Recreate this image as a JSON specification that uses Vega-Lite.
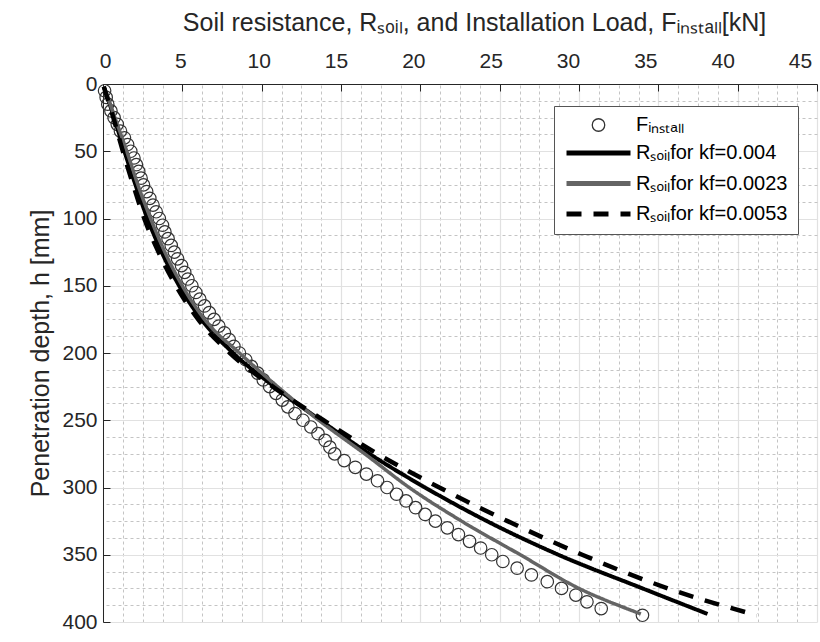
{
  "$schema": "https://vega.github.io/schema/vega-lite/v6.json",
  "width": 714,
  "height": 538,
  "autosize": {"type": "none"},
  "padding": {"left": 103, "top": 84, "right": 3, "bottom": 20},
  "background": "white",
  "config": {
    "font": "Liberation Sans",
    "view": {"stroke": null},
    "axis": {"labelFont": "Liberation Sans", "titleFont": "Liberation Sans", "labelColor": "#262626", "titleColor": "#262626", "titleFontWeight": "normal"},
    "legend": {"labelFont": "Liberation Sans", "labelFontSize": 20, "labelColor": "#000000", "titleFont": "Liberation Sans"}
  },
  "datasets": {
    "finstall": [
      {"h": 5, "F": 0.1, "series": "Fᵢₙₛₜₐₗₗ"},
      {"h": 10, "F": 0.2, "series": "Fᵢₙₛₜₐₗₗ"},
      {"h": 15, "F": 0.3, "series": "Fᵢₙₛₜₐₗₗ"},
      {"h": 20, "F": 0.5, "series": "Fᵢₙₛₜₐₗₗ"},
      {"h": 25, "F": 0.7, "series": "Fᵢₙₛₜₐₗₗ"},
      {"h": 30, "F": 0.9, "series": "Fᵢₙₛₜₐₗₗ"},
      {"h": 35, "F": 1.1, "series": "Fᵢₙₛₜₐₗₗ"},
      {"h": 40, "F": 1.35, "series": "Fᵢₙₛₜₐₗₗ"},
      {"h": 45, "F": 1.55, "series": "Fᵢₙₛₜₐₗₗ"},
      {"h": 50, "F": 1.75, "series": "Fᵢₙₛₜₐₗₗ"},
      {"h": 55, "F": 1.95, "series": "Fᵢₙₛₜₐₗₗ"},
      {"h": 60, "F": 2.1, "series": "Fᵢₙₛₜₐₗₗ"},
      {"h": 65, "F": 2.25, "series": "Fᵢₙₛₜₐₗₗ"},
      {"h": 70, "F": 2.4, "series": "Fᵢₙₛₜₐₗₗ"},
      {"h": 75, "F": 2.55, "series": "Fᵢₙₛₜₐₗₗ"},
      {"h": 80, "F": 2.75, "series": "Fᵢₙₛₜₐₗₗ"},
      {"h": 85, "F": 2.95, "series": "Fᵢₙₛₜₐₗₗ"},
      {"h": 90, "F": 3.15, "series": "Fᵢₙₛₜₐₗₗ"},
      {"h": 95, "F": 3.35, "series": "Fᵢₙₛₜₐₗₗ"},
      {"h": 100, "F": 3.55, "series": "Fᵢₙₛₜₐₗₗ"},
      {"h": 105, "F": 3.75, "series": "Fᵢₙₛₜₐₗₗ"},
      {"h": 110, "F": 3.9, "series": "Fᵢₙₛₜₐₗₗ"},
      {"h": 115, "F": 4.1, "series": "Fᵢₙₛₜₐₗₗ"},
      {"h": 120, "F": 4.3, "series": "Fᵢₙₛₜₐₗₗ"},
      {"h": 125, "F": 4.5, "series": "Fᵢₙₛₜₐₗₗ"},
      {"h": 130, "F": 4.7, "series": "Fᵢₙₛₜₐₗₗ"},
      {"h": 135, "F": 4.95, "series": "Fᵢₙₛₜₐₗₗ"},
      {"h": 140, "F": 5.15, "series": "Fᵢₙₛₜₐₗₗ"},
      {"h": 145, "F": 5.35, "series": "Fᵢₙₛₜₐₗₗ"},
      {"h": 150, "F": 5.6, "series": "Fᵢₙₛₜₐₗₗ"},
      {"h": 155, "F": 5.85, "series": "Fᵢₙₛₜₐₗₗ"},
      {"h": 160, "F": 6.1, "series": "Fᵢₙₛₜₐₗₗ"},
      {"h": 165, "F": 6.4, "series": "Fᵢₙₛₜₐₗₗ"},
      {"h": 170, "F": 6.7, "series": "Fᵢₙₛₜₐₗₗ"},
      {"h": 175, "F": 7.0, "series": "Fᵢₙₛₜₐₗₗ"},
      {"h": 180, "F": 7.3, "series": "Fᵢₙₛₜₐₗₗ"},
      {"h": 185, "F": 7.65, "series": "Fᵢₙₛₜₐₗₗ"},
      {"h": 190, "F": 7.95, "series": "Fᵢₙₛₜₐₗₗ"},
      {"h": 195, "F": 8.25, "series": "Fᵢₙₛₜₐₗₗ"},
      {"h": 200, "F": 8.6, "series": "Fᵢₙₛₜₐₗₗ"},
      {"h": 205, "F": 9.0, "series": "Fᵢₙₛₜₐₗₗ"},
      {"h": 210, "F": 9.35, "series": "Fᵢₙₛₜₐₗₗ"},
      {"h": 215, "F": 9.75, "series": "Fᵢₙₛₜₐₗₗ"},
      {"h": 220, "F": 10.1, "series": "Fᵢₙₛₜₐₗₗ"},
      {"h": 225, "F": 10.5, "series": "Fᵢₙₛₜₐₗₗ"},
      {"h": 230, "F": 10.9, "series": "Fᵢₙₛₜₐₗₗ"},
      {"h": 235, "F": 11.3, "series": "Fᵢₙₛₜₐₗₗ"},
      {"h": 240, "F": 11.65, "series": "Fᵢₙₛₜₐₗₗ"},
      {"h": 245, "F": 12.1, "series": "Fᵢₙₛₜₐₗₗ"},
      {"h": 250, "F": 12.6, "series": "Fᵢₙₛₜₐₗₗ"},
      {"h": 255, "F": 13.1, "series": "Fᵢₙₛₜₐₗₗ"},
      {"h": 260, "F": 13.55, "series": "Fᵢₙₛₜₐₗₗ"},
      {"h": 265, "F": 14.0, "series": "Fᵢₙₛₜₐₗₗ"},
      {"h": 270, "F": 14.3, "series": "Fᵢₙₛₜₐₗₗ"},
      {"h": 275, "F": 14.6, "series": "Fᵢₙₛₜₐₗₗ"},
      {"h": 280, "F": 15.2, "series": "Fᵢₙₛₜₐₗₗ"},
      {"h": 285, "F": 15.9, "series": "Fᵢₙₛₜₐₗₗ"},
      {"h": 290, "F": 16.6, "series": "Fᵢₙₛₜₐₗₗ"},
      {"h": 295, "F": 17.3, "series": "Fᵢₙₛₜₐₗₗ"},
      {"h": 300, "F": 17.9, "series": "Fᵢₙₛₜₐₗₗ"},
      {"h": 305, "F": 18.5, "series": "Fᵢₙₛₜₐₗₗ"},
      {"h": 310, "F": 19.1, "series": "Fᵢₙₛₜₐₗₗ"},
      {"h": 315, "F": 19.7, "series": "Fᵢₙₛₜₐₗₗ"},
      {"h": 320, "F": 20.3, "series": "Fᵢₙₛₜₐₗₗ"},
      {"h": 325, "F": 20.95, "series": "Fᵢₙₛₜₐₗₗ"},
      {"h": 330, "F": 21.7, "series": "Fᵢₙₛₜₐₗₗ"},
      {"h": 335, "F": 22.4, "series": "Fᵢₙₛₜₐₗₗ"},
      {"h": 340, "F": 23.1, "series": "Fᵢₙₛₜₐₗₗ"},
      {"h": 345, "F": 23.8, "series": "Fᵢₙₛₜₐₗₗ"},
      {"h": 350, "F": 24.5, "series": "Fᵢₙₛₜₐₗₗ"},
      {"h": 355, "F": 25.2, "series": "Fᵢₙₛₜₐₗₗ"},
      {"h": 360, "F": 26.1, "series": "Fᵢₙₛₜₐₗₗ"},
      {"h": 365, "F": 27.0, "series": "Fᵢₙₛₜₐₗₗ"},
      {"h": 370, "F": 28.0, "series": "Fᵢₙₛₜₐₗₗ"},
      {"h": 375, "F": 28.9, "series": "Fᵢₙₛₜₐₗₗ"},
      {"h": 380, "F": 29.8, "series": "Fᵢₙₛₜₐₗₗ"},
      {"h": 385, "F": 30.5, "series": "Fᵢₙₛₜₐₗₗ"},
      {"h": 390, "F": 31.4, "series": "Fᵢₙₛₜₐₗₗ"},
      {"h": 395, "F": 34.0, "series": "Fᵢₙₛₜₐₗₗ"}
    ],
    "rsoil": [
      {"series": "Rₛₒᵢₗfor kf=0.004", "h": 2, "R": 0.05},
      {"series": "Rₛₒᵢₗfor kf=0.004", "h": 25, "R": 0.7},
      {"series": "Rₛₒᵢₗfor kf=0.004", "h": 50, "R": 1.35},
      {"series": "Rₛₒᵢₗfor kf=0.004", "h": 75, "R": 2.05},
      {"series": "Rₛₒᵢₗfor kf=0.004", "h": 100, "R": 2.8},
      {"series": "Rₛₒᵢₗfor kf=0.004", "h": 125, "R": 3.7},
      {"series": "Rₛₒᵢₗfor kf=0.004", "h": 150, "R": 4.8},
      {"series": "Rₛₒᵢₗfor kf=0.004", "h": 175, "R": 6.2},
      {"series": "Rₛₒᵢₗfor kf=0.004", "h": 200, "R": 8.2},
      {"series": "Rₛₒᵢₗfor kf=0.004", "h": 225, "R": 10.8},
      {"series": "Rₛₒᵢₗfor kf=0.004", "h": 250, "R": 13.7},
      {"series": "Rₛₒᵢₗfor kf=0.004", "h": 275, "R": 16.8},
      {"series": "Rₛₒᵢₗfor kf=0.004", "h": 300, "R": 20.3},
      {"series": "Rₛₒᵢₗfor kf=0.004", "h": 325, "R": 24.2},
      {"series": "Rₛₒᵢₗfor kf=0.004", "h": 350, "R": 28.7},
      {"series": "Rₛₒᵢₗfor kf=0.004", "h": 375, "R": 34.0},
      {"series": "Rₛₒᵢₗfor kf=0.004", "h": 394, "R": 38.1},
      {"series": "Rₛₒᵢₗfor kf=0.0023", "h": 2, "R": 0.05},
      {"series": "Rₛₒᵢₗfor kf=0.0023", "h": 25, "R": 0.75},
      {"series": "Rₛₒᵢₗfor kf=0.0023", "h": 50, "R": 1.5},
      {"series": "Rₛₒᵢₗfor kf=0.0023", "h": 75, "R": 2.2},
      {"series": "Rₛₒᵢₗfor kf=0.0023", "h": 100, "R": 3.0},
      {"series": "Rₛₒᵢₗfor kf=0.0023", "h": 125, "R": 3.9},
      {"series": "Rₛₒᵢₗfor kf=0.0023", "h": 150, "R": 5.0},
      {"series": "Rₛₒᵢₗfor kf=0.0023", "h": 175, "R": 6.4},
      {"series": "Rₛₒᵢₗfor kf=0.0023", "h": 200, "R": 8.6},
      {"series": "Rₛₒᵢₗfor kf=0.0023", "h": 225, "R": 11.0},
      {"series": "Rₛₒᵢₗfor kf=0.0023", "h": 250, "R": 13.6},
      {"series": "Rₛₒᵢₗfor kf=0.0023", "h": 275, "R": 16.5},
      {"series": "Rₛₒᵢₗfor kf=0.0023", "h": 300, "R": 19.3},
      {"series": "Rₛₒᵢₗfor kf=0.0023", "h": 325, "R": 22.6},
      {"series": "Rₛₒᵢₗfor kf=0.0023", "h": 350, "R": 26.3},
      {"series": "Rₛₒᵢₗfor kf=0.0023", "h": 375, "R": 30.0},
      {"series": "Rₛₒᵢₗfor kf=0.0023", "h": 390, "R": 33.0},
      {"series": "Rₛₒᵢₗfor kf=0.0023", "h": 394, "R": 33.9},
      {"series": "Rₛₒᵢₗfor kf=0.0053", "h": 2, "R": 0.05},
      {"series": "Rₛₒᵢₗfor kf=0.0053", "h": 25, "R": 0.65},
      {"series": "Rₛₒᵢₗfor kf=0.0053", "h": 50, "R": 1.25},
      {"series": "Rₛₒᵢₗfor kf=0.0053", "h": 75, "R": 1.9},
      {"series": "Rₛₒᵢₗfor kf=0.0053", "h": 100, "R": 2.6},
      {"series": "Rₛₒᵢₗfor kf=0.0053", "h": 125, "R": 3.5},
      {"series": "Rₛₒᵢₗfor kf=0.0053", "h": 150, "R": 4.6},
      {"series": "Rₛₒᵢₗfor kf=0.0053", "h": 175, "R": 6.0},
      {"series": "Rₛₒᵢₗfor kf=0.0053", "h": 200, "R": 8.0},
      {"series": "Rₛₒᵢₗfor kf=0.0053", "h": 225, "R": 10.7},
      {"series": "Rₛₒᵢₗfor kf=0.0053", "h": 250, "R": 13.9},
      {"series": "Rₛₒᵢₗfor kf=0.0053", "h": 275, "R": 17.3},
      {"series": "Rₛₒᵢₗfor kf=0.0053", "h": 300, "R": 21.2},
      {"series": "Rₛₒᵢₗfor kf=0.0053", "h": 325, "R": 25.5},
      {"series": "Rₛₒᵢₗfor kf=0.0053", "h": 350, "R": 30.2},
      {"series": "Rₛₒᵢₗfor kf=0.0053", "h": 375, "R": 35.6},
      {"series": "Rₛₒᵢₗfor kf=0.0053", "h": 395, "R": 41.2}
    ]
  },
  "resolve": {"axis": {"x": "independent", "y": "independent"}},
  "layer": [
    {
      "data": {"name": "finstall"},
      "mark": {"type": "point", "filled": false, "size": 156, "strokeWidth": 1.2, "color": "#333333", "opacity": 1},
      "encoding": {
        "x": {"field": "F", "type": "quantitative", "scale": {"domain": [0, 45], "nice": false, "zero": false},
          "axis": {"orient": "bottom", "title": null, "labels": false, "ticks": false, "domain": false, "grid": true, "gridDash": [3, 3], "gridColor": "#c4c4c4", "gridWidth": 1,
            "values": [1.25, 2.5, 3.75, 6.25, 7.5, 8.75, 11.25, 12.5, 13.75, 16.25, 17.5, 18.75, 21.25, 22.5, 23.75, 26.25, 27.5, 28.75, 31.25, 32.5, 33.75, 36.25, 37.5, 38.75, 41.25, 42.5, 43.75]}},
        "y": {"field": "h", "type": "quantitative", "scale": {"domain": [0, 400], "nice": false, "reverse": true, "zero": false},
          "axis": {"orient": "right", "title": null, "labels": false, "ticks": false, "domain": false, "grid": true, "gridDash": [3, 3], "gridColor": "#c4c4c4", "gridWidth": 1,
            "values": [12.5, 25, 37.5, 62.5, 75, 87.5, 112.5, 125, 137.5, 162.5, 175, 187.5, 212.5, 225, 237.5, 262.5, 275, 287.5, 312.5, 325, 337.5, 362.5, 375, 387.5]}},
        "shape": {"field": "series", "type": "nominal",
          "scale": {"domain": ["Fᵢₙₛₜₐₗₗ"], "range": ["circle"]},
          "legend": {
            "title": null, "orient": "none", "legendX": 461, "legendY": 31, "padding": 0,
            "symbolType": "circle", "symbolSize": 156, "symbolStrokeWidth": 1.3, "symbolStrokeColor": "#333333", "symbolFillColor": "transparent",
            "symbolOffset": 24.5, "labelOffset": 27.5, "clipHeight": 20, "labelLimit": 400, "zindex": 2
          }
        }
      }
    },
    {
      "data": {"name": "rsoil"},
      "mark": {"type": "line", "interpolate": "monotone"},
      "encoding": {
        "x": {"field": "R", "type": "quantitative",
          "axis": {"orient": "top", "values": [0, 5, 10, 15, 20, 25, 30, 35, 40, 45],
            "title": "Soil resistance, Rₛₒᵢₗ, and Installation Load, Fᵢₙₛₜₐₗₗ[kN]", "titleFontSize": 25, "titlePadding": 15, "titleX": 371,
            "labelFontSize": 21, "labelPadding": 20, "tickSize": -7, "tickColor": "#262626", "tickWidth": 1,
            "labelOffset": {"condition": [
              {"test": "datum.value == 0", "value": 2},
              {"test": "datum.value == 5", "value": -2},
              {"test": "datum.value == 10", "value": -3},
              {"test": "datum.value == 15", "value": -5},
              {"test": "datum.value == 20", "value": -7},
              {"test": "datum.value == 25", "value": -9},
              {"test": "datum.value == 30", "value": -11},
              {"test": "datum.value == 35", "value": -13},
              {"test": "datum.value == 40", "value": -15},
              {"test": "datum.value == 45", "value": -17}
            ], "value": 0},
            "domainColor": "#262626", "domainWidth": 1, "grid": true, "gridColor": "#e1e1e1", "gridWidth": 1.2,
            "labelFlush": false, "labelOverlap": false}},
        "y": {"field": "h", "type": "quantitative",
          "axis": {"orient": "left", "values": [0, 50, 100, 150, 200, 250, 300, 350, 400],
            "title": "Penetration depth, h [mm]", "titleFontSize": 25, "titlePadding": 8,
            "labelFontSize": 21, "labelPadding": 13, "tickSize": -7, "tickColor": "#262626", "tickWidth": 1,
            "domainColor": "#262626", "domainWidth": 1, "grid": true, "gridColor": "#e1e1e1", "gridWidth": 1.2,
            "labelFlush": false, "labelOverlap": false}},
        "color": {"field": "series", "type": "nominal",
          "scale": {"domain": ["Rₛₒᵢₗfor kf=0.004", "Rₛₒᵢₗfor kf=0.0023", "Rₛₒᵢₗfor kf=0.0053"], "range": ["#000000", "#646464", "#000000"]},
          "legend": {
            "title": " ", "titleFontSize": 20, "titlePadding": 7,
            "orient": "none", "legendX": 451, "legendY": 22, "padding": 10,
            "strokeColor": "#555555", "fillColor": "#ffffff",
            "symbolType": "stroke", "symbolSize": 4096, "symbolStrokeWidth": 5,
            "labelOffset": 3, "labelLimit": 400, "rowPadding": 10.5, "symbolOffset": 0, "clipHeight": 20, "zindex": 1
          }
        },
        "strokeDash": {"field": "series", "type": "nominal",
          "scale": {"domain": ["Rₛₒᵢₗfor kf=0.004", "Rₛₒᵢₗfor kf=0.0023", "Rₛₒᵢₗfor kf=0.0053"], "range": [[1, 0], [1, 0], [15, 12]]}},
        "strokeWidth": {"field": "series", "type": "nominal", "legend": null,
          "scale": {"domain": ["Rₛₒᵢₗfor kf=0.0023", "Rₛₒᵢₗfor kf=0.004", "Rₛₒᵢₗfor kf=0.0053"], "range": [3.5, 4.5]}}
      }
    }
  ]
}
